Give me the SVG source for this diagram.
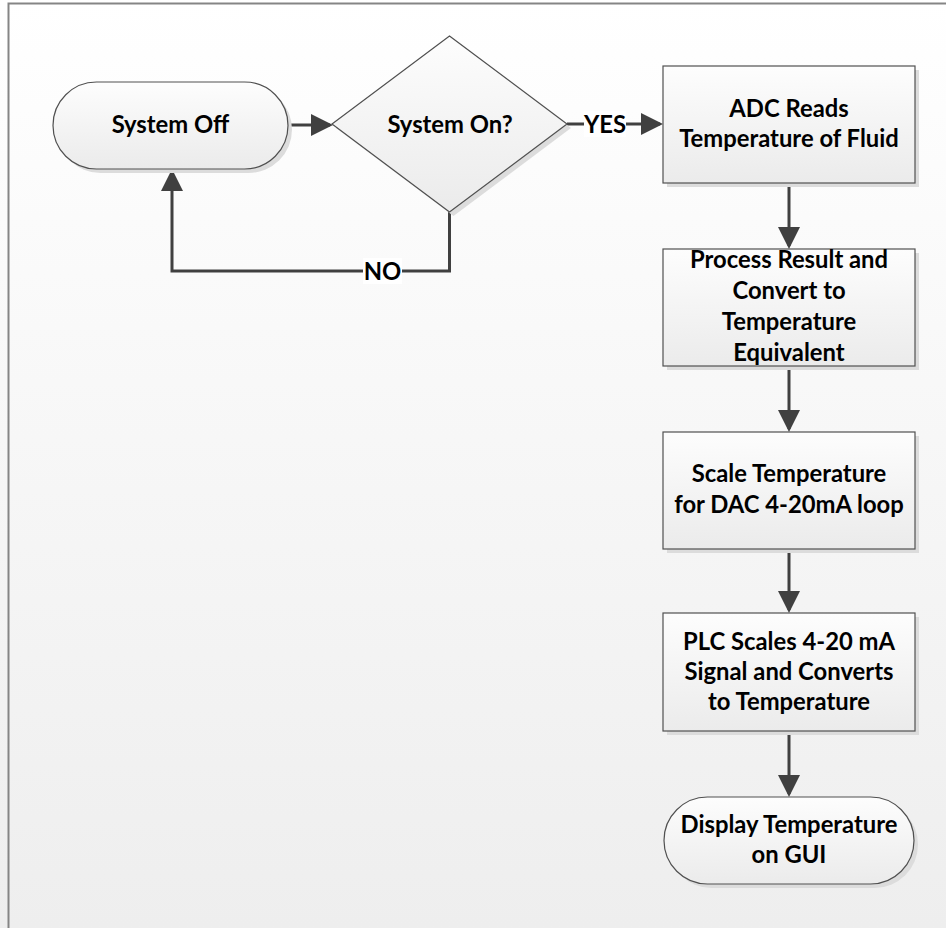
<svg xmlns="http://www.w3.org/2000/svg" width="946" height="928" viewBox="0 0 946 928">
<defs>
<linearGradient id="bg" x1="0" y1="0" x2="0" y2="1">
<stop offset="0" stop-color="#ffffff"/>
<stop offset="1" stop-color="#eeeeee"/>
</linearGradient>
<linearGradient id="nodeFill" x1="0" y1="0" x2="0" y2="1">
<stop offset="0" stop-color="#fdfdfd"/>
<stop offset="1" stop-color="#ebebeb"/>
</linearGradient>
<marker id="arrow" viewBox="0 0 22 22" refX="19" refY="11" markerWidth="22" markerHeight="22" markerUnits="userSpaceOnUse" orient="auto">
<path d="M0,0 L22,11 L0,22 z" fill="#404040"/>
</marker>
</defs>
<style>
.shadow{fill:#dcdcdc;stroke:none}
.node{fill:url(#nodeFill);stroke:#505050;stroke-width:1.2}
.lbl{font-family:Lato,"Open Sans","Liberation Sans",sans-serif;font-weight:bold;font-size:23.8px;fill:#000;text-anchor:middle}
.conn{fill:none;stroke:#404040;stroke-width:3;marker-end:url(#arrow)}
.tagbg{fill:#ffffff}
</style>
<rect x="0" y="0" width="946" height="928" fill="url(#bg)"/>
<path d="M8.5,928 V3.5 H946" fill="none" stroke="#858585" stroke-width="2"/>

<g id="connectors">
<path class="conn" d="M288,125 H330"/>
<path class="conn" d="M567,124 H660"/>
<path class="conn" d="M449.5,212 V271 H172 V172"/>
<path class="conn" d="M789,183 V246"/>
<path class="conn" d="M789,366 V429"/>
<path class="conn" d="M789,549 V610"/>
<path class="conn" d="M789,731 V794"/>
<rect class="tagbg" x="584" y="111" width="42" height="26"/>
<text class="lbl" x="605" y="133">YES</text>
<rect class="tagbg" x="363" y="258" width="39" height="26"/>
<text class="lbl" x="382.5" y="280">NO</text>
</g>

<g id="system-off">
<rect class="shadow" x="57" y="86" width="235" height="87" rx="43.5"/>
<rect class="node" x="53" y="82" width="235" height="87" rx="43.5"/>
<text class="lbl" x="170.5" y="133">System Off</text>
</g>

<g id="system-on">
<polygon class="shadow" points="453.5,40 571,128 453.5,216 336,128"/>
<polygon class="node" points="449.5,36 567,124 449.5,212 332,124"/>
<text class="lbl" x="450" y="133">System On?</text>
</g>

<g id="adc-reads">
<rect class="shadow" x="667" y="70" width="252" height="117"/>
<rect class="node" x="663" y="66" width="252" height="117"/>
<text class="lbl" x="789" y="117">ADC Reads</text>
<text class="lbl" x="789" y="147">Temperature of Fluid</text>
</g>

<g id="process-result">
<rect class="shadow" x="667" y="253" width="252" height="117"/>
<rect class="node" x="663" y="249" width="252" height="117"/>
<text class="lbl" x="789" y="268">Process Result and</text>
<text class="lbl" x="789" y="299">Convert to</text>
<text class="lbl" x="789" y="330">Temperature</text>
<text class="lbl" x="789" y="361">Equivalent</text>
</g>

<g id="scale-temperature">
<rect class="shadow" x="667" y="436" width="252" height="117"/>
<rect class="node" x="663" y="432" width="252" height="117"/>
<text class="lbl" x="789" y="482">Scale Temperature</text>
<text class="lbl" x="789" y="513">for DAC 4-20mA loop</text>
</g>

<g id="plc-scales">
<rect class="shadow" x="667" y="617" width="252" height="118"/>
<rect class="node" x="663" y="613" width="252" height="118"/>
<text class="lbl" x="789" y="650">PLC Scales 4-20 mA</text>
<text class="lbl" x="789" y="680">Signal and Converts</text>
<text class="lbl" x="789" y="710">to Temperature</text>
</g>

<g id="display-temperature">
<rect class="shadow" x="668" y="801" width="250" height="87" rx="43.5"/>
<rect class="node" x="664" y="797" width="250" height="87" rx="43.5"/>
<text class="lbl" x="789" y="833">Display Temperature</text>
<text class="lbl" x="789" y="863">on GUI</text>
</g>
</svg>
